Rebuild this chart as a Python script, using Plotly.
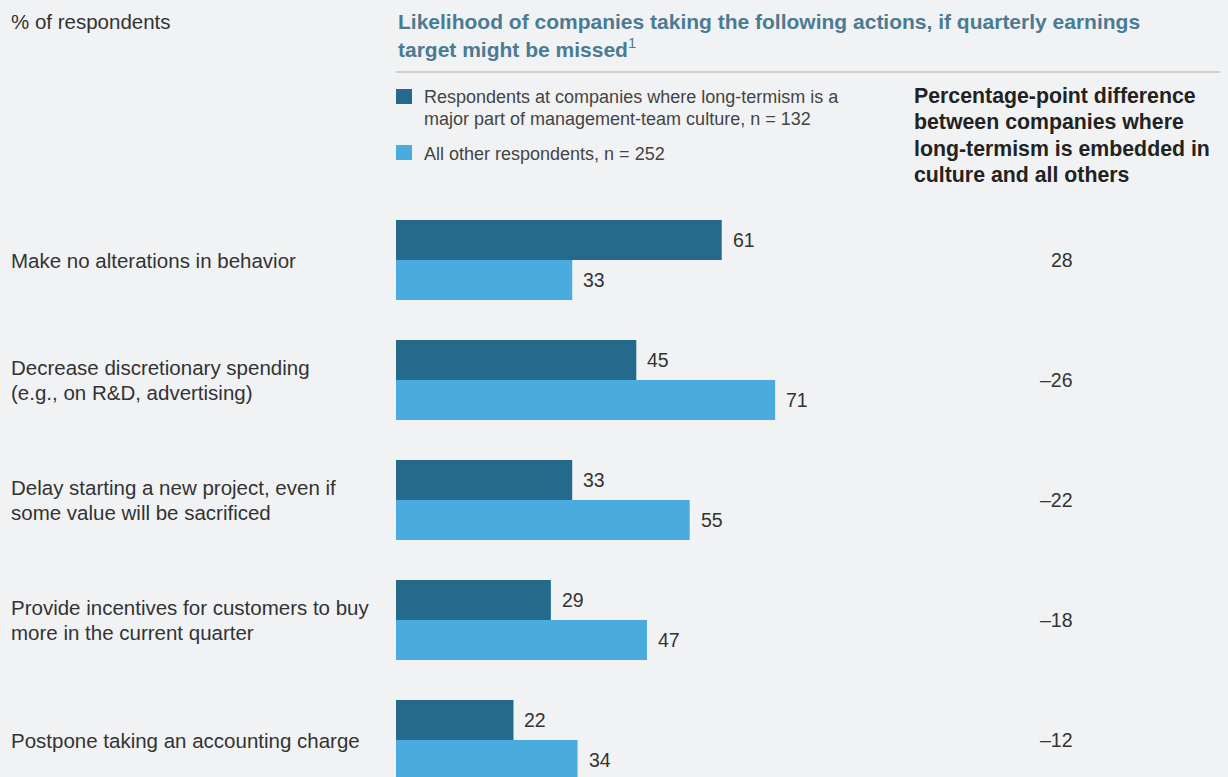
import plotly.graph_objects as go

categories = [
    ["Make no alterations in behavior"],
    ["Decrease discretionary spending", "(e.g., on R&D, advertising)"],
    ["Delay starting a new project, even if", "some value will be sacrificed"],
    ["Provide incentives for customers to buy", "more in the current quarter"],
    ["Postpone taking an accounting charge"],
]
long_term = [61, 45, 33, 29, 22]
all_other = [33, 71, 55, 47, 34]
series_names = [
    ["Respondents at companies where long-termism is a",
     "major part of management-team culture, n = 132"],
    ["All other respondents, n = 252"],
]
title_lines = ["<b>Likelihood of companies taking the following actions, if quarterly earnings</b>",
               "<b>target might be missed</b><sup>1</sup>"]
diff_header = ["<b>Percentage-point difference</b>", "<b>between companies where</b>",
               "<b>long-termism is embedded in</b>", "<b>culture and all others</b>"]
unit_label = "% of respondents"

W, H = 1228, 777
L, R_EDGE = 396, 930      # plot area x pixels
TOP, BOT = 200, 777       # plot area y pixels
PW, PH = R_EDGE - L, BOT - TOP

DARK = "#236a8b"
LIGHT = "#4aabdf"
BG = "#f1f2f4"
TXT = "#333333"
FONT = "Liberation Sans, Arial, sans-serif"


def px2x(px):
    return (px - L) / PW


def px2y(py):
    return (BOT - py) / PH


ys = list(range(len(categories)))

fig = go.Figure()
fig.add_trace(go.Bar(y=ys, x=long_term, orientation="h", width=1/3, offset=-1/3,
                     marker=dict(color=DARK, line=dict(width=0)), hoverinfo="skip",
                     name="long"))
fig.add_trace(go.Bar(y=ys, x=all_other, orientation="h", width=1/3, offset=0,
                     marker=dict(color=LIGHT, line=dict(width=0)), hoverinfo="skip",
                     name="other"))

ann = []


def lines_paper(lines, x_px, y_center_px, spacing, size, color):
    n = len(lines)
    for k, t in enumerate(lines):
        yc = y_center_px + (k - (n - 1) / 2) * spacing
        ann.append(dict(x=px2x(x_px), y=px2y(yc), xref="paper", yref="paper", text=t,
                        showarrow=False, xanchor="left", yanchor="middle", align="left",
                        font=dict(size=size, color=color, family=FONT)))


VAL_SIZE = 19.5
for i, (a, b) in enumerate(zip(long_term, all_other)):
    ann.append(dict(x=a, y=i - 1/6, xref="x", yref="y", text=str(a), showarrow=False,
                    xanchor="left", yanchor="middle", xshift=9,
                    font=dict(size=VAL_SIZE, color=TXT, family=FONT)))
    ann.append(dict(x=b, y=i + 1/6, xref="x", yref="y", text=str(b), showarrow=False,
                    xanchor="left", yanchor="middle", xshift=9,
                    font=dict(size=VAL_SIZE, color=TXT, family=FONT)))
    d = a - b
    dtxt = f"–{abs(d)}" if d < 0 else str(d)
    ann.append(dict(x=px2x(1075), y=i, xref="paper", yref="y", text=dtxt, showarrow=False,
                    xanchor="right", yanchor="middle",
                    font=dict(size=VAL_SIZE, color=TXT, family=FONT)))
    n = len(categories[i])
    for k, t in enumerate(categories[i]):
        ann.append(dict(x=px2x(9), y=i, xref="paper", yref="y", text=t,
                        showarrow=False, xanchor="left", yanchor="middle", align="left",
                        yshift=-(k - (n - 1) / 2) * 25,
                        font=dict(size=20.5, color=TXT, family=FONT)))

lines_paper([unit_label], 9, 22, 0, 20.5, TXT)
lines_paper(title_lines, 396, 35, 26.5, 21, "#4b7b93")
lines_paper(diff_header, 912, 135.5, 26.3, 21.3, "#222222")
lines_paper(series_names[0], 422, 108, 22.5, 18, "#444444")
lines_paper(series_names[1], 422, 154, 0, 18, "#444444")

shapes = [
    dict(type="line", xref="paper", yref="paper", x0=px2x(396), x1=px2x(1220),
         y0=px2y(72), y1=px2y(72), line=dict(color="#c3c3c3", width=1.5)),
    dict(type="rect", xref="paper", yref="paper", x0=px2x(396), x1=px2x(412),
         y0=px2y(104), y1=px2y(89), fillcolor=DARK, line=dict(width=0)),
    dict(type="rect", xref="paper", yref="paper", x0=px2x(396), x1=px2x(412),
         y0=px2y(160), y1=px2y(145), fillcolor=LIGHT, line=dict(width=0)),
]

fig.update_layout(
    width=W, height=H,
    margin=dict(l=L, r=W - R_EDGE, t=TOP, b=H - BOT, pad=0),
    paper_bgcolor=BG, plot_bgcolor=BG,
    barmode="overlay", showlegend=False,
    xaxis=dict(range=[0, 100], visible=False, fixedrange=True),
    yaxis=dict(range=[-0.5 + PH / 120, -0.5], visible=False, fixedrange=True),
    annotations=ann, shapes=shapes,
    font=dict(family=FONT, color=TXT),
)

fig.write_html("out.html", config={"displayModeBar": False})
